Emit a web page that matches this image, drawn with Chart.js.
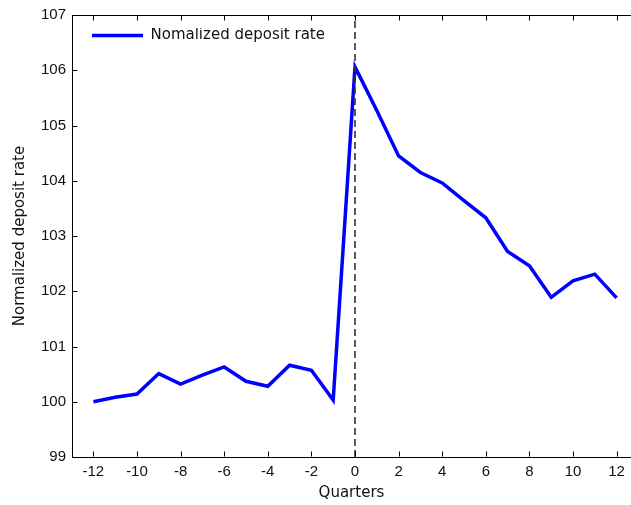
<!DOCTYPE html>
<html>
<head>
  <title>Normalized deposit rate</title>
  <script src="https://cdn.jsdelivr.net/npm/chart.js"></script>
  <style>
    html, body {
      margin: 0;
      padding: 0;
      overflow: hidden;
      background: #fff;
    }
    canvas {
      display: block;
    }
  </style>
</head>
<body>
  <canvas id="chart" width="631" height="505"></canvas>

  <script>
    // data
    var quarters = [-12, -11, -10, -9, -8, -7, -6, -5, -4, -3, -2, -1, 0, 1, 2, 3, 4, 5, 6, 7, 8, 9, 10, 11, 12];
    var depositRate = [100.00, 100.08, 100.14, 100.51, 100.32, 100.48, 100.63, 100.37, 100.28, 100.66, 100.57, 100.03,
                       106.06, 105.27, 104.45, 104.15, 103.96, 103.64, 103.33, 102.72, 102.46, 101.89, 102.19, 102.31, 101.88];
    var xTickValues = [-12, -10, -8, -6, -4, -2, 0, 2, 4, 6, 8, 10, 12];
    var yTickValues = [99, 100, 101, 102, 103, 104, 105, 106, 107];
    var eventQuarter = 0;
    // the original figure is cropped on the right, so the x range ends just past 12
    var xMin = -12.98, xMax = 12.66;

    var points = quarters.map(function (q, i) { return { x: q, y: depositRate[i] }; });
    var eventLine = [
      { x: eventQuarter, y: yTickValues[0] },
      { x: eventQuarter, y: yTickValues[yTickValues.length - 1] }
    ];

    // matlab style box: top line and inward ticks
    var boxPlugin = {
      id: "matlabBox",
      afterLayout: function (chart) {
        var lg = chart.legend;
        if (lg) {
          lg.left = chart.chartArea.left + 20;
          lg.top = chart.chartArea.top + 13;
        }
      },
      afterDatasetsDraw: function (chart) {
        var ctx = chart.ctx;
        var a = chart.chartArea;
        var xs = chart.scales.x, ys = chart.scales.y;
        var len = 5;
        var L = Math.round(a.left) + 0.5;
        var T = Math.round(a.top) + 0.5, B = Math.round(a.bottom) - 0.5;
        ctx.save();
        ctx.strokeStyle = "#000";
        ctx.lineWidth = 1;
        ctx.beginPath();
        ctx.moveTo(L, T); ctx.lineTo(a.right + 1, T);
        xTickValues.forEach(function (v) {
          var px = Math.round(xs.getPixelForValue(v)) + 0.5;
          ctx.moveTo(px, B); ctx.lineTo(px, B - len);
          ctx.moveTo(px, T); ctx.lineTo(px, T + len);
        });
        yTickValues.forEach(function (v) {
          var py = Math.round(ys.getPixelForValue(v)) + 0.5;
          ctx.moveTo(L, py); ctx.lineTo(L + len, py);
        });
        ctx.stroke();
        ctx.restore();
      }
    };

    var ctx = document.getElementById("chart").getContext("2d");
    var chart = new Chart(ctx, {
      type: "line",
      data: {
        datasets: [{
          label: "Nomalized deposit rate",
          data: points,
          borderColor: "#0000ff",
          backgroundColor: "#0000ff",
          borderWidth: 3.5,
          pointRadius: 0,
          tension: 0,
          fill: false
        }, {
          label: "event",
          data: eventLine,
          borderColor: "#333",
          borderWidth: 1.6,
          borderDash: [7, 4],
          pointRadius: 0,
          fill: false,
          order: -1
        }]
      },
      options: {
        responsive: false,
        animation: false,
        layout: { padding: { top: 13, right: 0, left: 0, bottom: 0 } },
        plugins: {
          tooltip: { enabled: false },
          legend: {
            position: "chartArea",
            align: "start",
            labels: {
              filter: function (item) { return item.datasetIndex === 0; },
              usePointStyle: true,
              pointStyle: "line",
              pointStyleWidth: 51,
              boxHeight: 15,
              padding: 0,
              color: "#111",
              font: { family: "'DejaVu Sans'", size: 15 }
            }
          }
        },
        scales: {
          x: {
            type: "linear",
            min: xMin,
            max: xMax,
            afterBuildTicks: function (s) { s.ticks = xTickValues.map(function (v) { return { value: v }; }); },
            afterFit: function (s) { s.height = 48; },
            grid: { display: false, drawTicks: false },
            border: { display: true, color: "#000", width: 1 },
            ticks: {
              padding: 6,
              color: "#111",
              maxRotation: 0,
              font: { family: "'Liberation Sans', Arial", size: 15 }
            },
            title: {
              display: true,
              text: "Quarters",
              color: "#111",
              padding: { top: 0, bottom: 3 },
              font: { family: "'DejaVu Sans'", size: 15 }
            }
          },
          y: {
            min: 99,
            max: 107,
            afterBuildTicks: function (s) { s.ticks = yTickValues.map(function (v) { return { value: v }; }); },
            afterFit: function (s) { s.width = 72; },
            grid: { display: false, drawTicks: false },
            border: { display: true, color: "#000", width: 1 },
            ticks: {
              padding: 6,
              color: "#111",
              font: { family: "'Liberation Sans', Arial", size: 15 }
            },
            title: {
              display: true,
              text: "Normalized deposit rate",
              color: "#111",
              padding: { top: 11, bottom: 0 },
              font: { family: "'DejaVu Sans'", size: 15 }
            }
          }
        }
      },
      plugins: [boxPlugin]
    });
  </script>
</body>
</html>
